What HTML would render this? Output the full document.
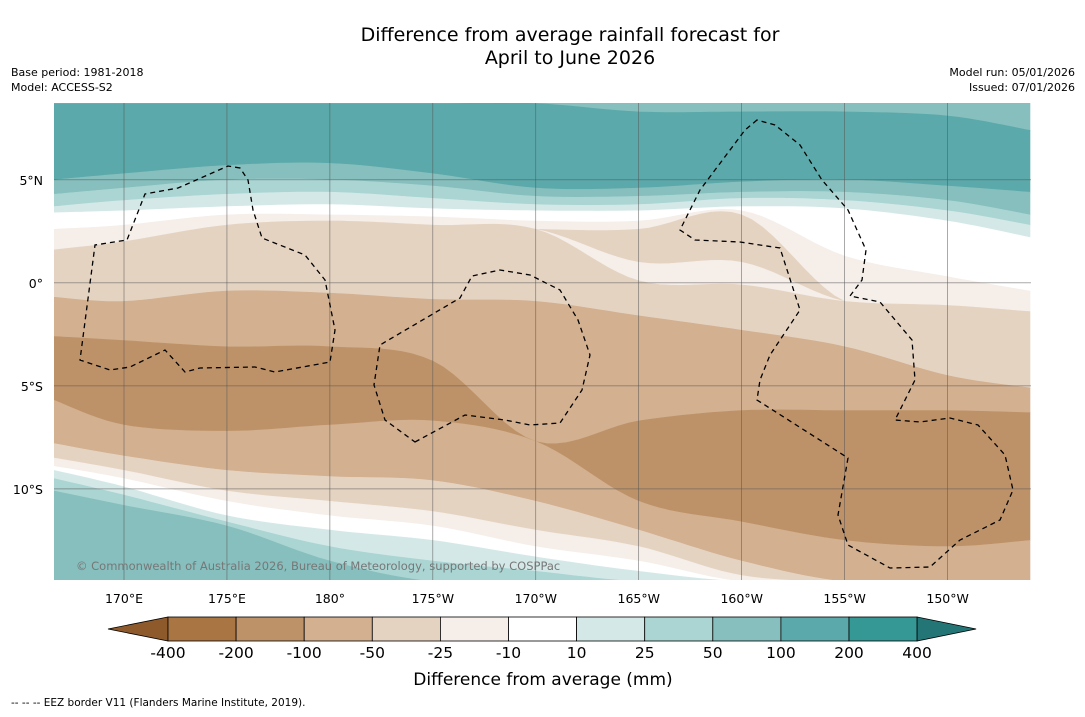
<!DOCTYPE html>
<html><head><meta charset="utf-8">
<style>
html,body{margin:0;padding:0;background:#fff;}
body{width:1085px;height:713px;overflow:hidden;font-family:"DejaVu Sans","Liberation Sans",sans-serif;}
svg text{font-family:"DejaVu Sans","Liberation Sans",sans-serif;}
</style></head>
<body>
<svg id="chart" width="1085" height="713" viewBox="0 0 1085 713" xmlns="http://www.w3.org/2000/svg">
<text x="570" y="41" font-size="19" text-anchor="middle" fill="#000">Difference from average rainfall forecast for</text>
<text x="570" y="64" font-size="19" text-anchor="middle" fill="#000">April to June 2026</text>
<text x="11" y="76" font-size="11">Base period: 1981-2018</text>
<text x="11" y="91" font-size="11">Model: ACCESS-S2</text>
<text x="1075" y="76" font-size="11" text-anchor="end">Model run: 05/01/2026</text>
<text x="1075" y="91" font-size="11" text-anchor="end">Issued: 07/01/2026</text>
<defs><clipPath id="mapclip"><rect x="54" y="103" width="977" height="477"/></clipPath></defs>
<g id="map" clip-path="url(#mapclip)"></g>
<g id="axes"></g>
<g id="cbar"></g>
<text x="543" y="685" font-size="17" text-anchor="middle">Difference from average (mm)</text>
<text x="11" y="706" font-size="10.5">--  --  -- EEZ border V11 (Flanders Marine Institute, 2019).</text>
</svg>
<script>
// ---- data ----
const lonKnots = [166.6,170,175,180,185,190,195,200,205,210,214];
const boundaries = [
 [8.7,8.7,8.7,8.7,8.7,8.7,8.3,8.3,8.3,8.1,7.4],
 [5.0,5.3,5.7,5.8,5.3,4.6,4.6,4.9,5.0,4.7,4.4],
 [4.3,4.6,5.0,5.0,4.7,4.2,4.2,4.4,4.4,4.0,3.3],
 [3.7,4.0,4.3,4.4,4.1,3.8,3.8,4.1,4.0,3.5,2.8],
 [3.4,3.5,3.7,3.8,3.6,3.5,3.5,3.7,3.6,3.0,2.2],
 [2.6,2.8,3.3,3.3,3.2,3.0,3.0,3.5,1.3,0.3,-0.4],
 [1.6,2.0,2.8,3.0,2.8,2.6,2.6,3.3,-0.9,-1.1,-1.4],
 [1.6,2.0,2.8,3.0,2.8,2.6,1.0,1.0,-0.9,-1.1,-1.4],
 [1.6,2.0,2.8,3.0,2.8,2.6,0.1,-0.1,-0.9,-1.1,-1.4],
 [-0.7,-0.9,-0.4,-0.5,-0.8,-0.9,-1.6,-2.3,-3.1,-4.5,-5.1],
 [-2.6,-2.8,-3.1,-3.1,-3.8,-7.7,-6.7,-6.2,-6.2,-6.2,-6.3],
 [-5.7,-6.9,-7.2,-6.9,-6.7,-7.7,-10.6,-11.6,-12.5,-12.8,-12.5],
 [-7.8,-8.4,-9.1,-9.4,-9.6,-10.6,-12.0,-13.5,-14.5,-14.5,-14.5],
 [-8.5,-9.1,-10.1,-10.6,-11.1,-12.0,-12.8,-14.2,-14.5,-14.5,-14.5],
 [-8.9,-9.5,-10.6,-11.3,-11.8,-12.8,-13.5,-14.5,-14.5,-14.5,-14.5],
 [-9.1,-9.9,-11.3,-12.0,-12.5,-13.3,-14.0,-14.5,-14.5,-14.5,-14.5],
 [-9.5,-10.3,-11.6,-12.8,-13.5,-14.0,-14.5,-14.5,-14.5,-14.5,-14.5],
 [-10.1,-10.8,-11.8,-13.5,-14.5,-14.5,-14.5,-14.5,-14.5,-14.5,-14.5]
];
// class index of each region (from north): index into binColors
const regionClass = [9,10,9,8,7,6,5,4,5,4,3,2,3,4,5,6,7,8,9];
const binLabels = ["-400","-200","-100","-50","-25","-10","10","25","50","100","200","400"];
const binColors = ["#8e5a2c","#a87543","#be9268","#d2b090","#e5d3c2","#f5eee9","#ffffff","#d4e9e7","#aad5d3","#86bfbd","#5ba9aa","#369895","#247676"];
const lonTicks = [170,175,180,185,190,195,200,205,210];
const lonTickLabels = ["170°E","175°E","180°","175°W","170°W","165°W","160°W","155°W","150°W"];
const latTicks = [5,0,-5,-10];
const latTickLabels = ["5°N","0°","5°S","10°S"];

// ---- axes ----
const X0=54,X1=1031,Y0=103,Y1=580;
const LON0=166.6,LON1=214.05,LAT0=8.73,LAT1=-14.42;
const xs = lon => X0 + (lon-LON0)/(LON1-LON0)*(X1-X0);
const ys = lat => Y0 + (LAT0-lat)/(LAT0-LAT1)*(Y1-Y0);
const NS="http://www.w3.org/2000/svg";
function mk(tag,attrs,parent){const e=document.createElementNS(NS,tag);for(const k in attrs)e.setAttribute(k,attrs[k]);parent.appendChild(e);return e;}

function sample(arr){
  const pts=[];
  const n=lonKnots.length;
  for(let i=0;i<n-1;i++){
    const p0=[lonKnots[Math.max(i-1,0)],arr[Math.max(i-1,0)]],p1=[lonKnots[i],arr[i]],p2=[lonKnots[i+1],arr[i+1]],p3=[lonKnots[Math.min(i+2,n-1)],arr[Math.min(i+2,n-1)]];
    for(let t=0;t<1;t+=0.1){
      const t2=t*t,t3=t2*t;
      const f=(a,b,c,d)=>0.5*((2*b)+(-a+c)*t+(2*a-5*b+4*c-d)*t2+(-a+3*b-3*c+d)*t3);
      pts.push([xs(f(p0[0],p1[0],p2[0],p3[0])),ys(f(p0[1],p1[1],p2[1],p3[1]))]);
    }
  }
  pts.push([xs(lonKnots[n-1]),ys(arr[n-1])]);
  return pts;
}
const map=document.getElementById('map');
const topEdge=lonKnots.map(()=>LAT0+1), botEdge=lonKnots.map(()=>LAT1-1);
const bnds=[topEdge,...boundaries,botEdge];
for(let r=0;r<bnds.length-1;r++){
  const a=sample(bnds[r]), b=sample(bnds[r+1]).reverse();
  const d="M"+a.concat(b).map(p=>p[0].toFixed(1)+","+p[1].toFixed(1)).join("L")+"Z";
  const p=mk('path',{d:d,fill:binColors[regionClass[r]],stroke:binColors[regionClass[r]],'stroke-width':0.6},map);
  
  
}
lonTicks.forEach((lon,i)=>{
  const l=mk('line',{x1:xs(lon),x2:xs(lon),y1:Y0,y2:Y1,stroke:'#555','stroke-width':0.5},map);
  
  
});
latTicks.forEach(lat=>{
  const l=mk('line',{x1:X0,x2:X1,y1:ys(lat),y2:ys(lat),stroke:'#555','stroke-width':0.5},map);
  
  
});
const eez=[
 "M240,168L228,166L178,188L145,194L127,240L95,245L80,360L110,370L130,367L165,350L185,372L200,368L255,367L275,372L330,362L335,330L325,280L305,255L262,238L253,210L248,180Z",
 "M415,442L465,415L505,420L530,425L560,423L582,390L590,355L578,320L560,290L530,275L500,270L472,276L460,298L380,345L374,385L385,420Z",
 "M757,120L745,130L700,190L680,230L695,240L740,242L780,248L800,310L770,355L760,380L757,400L848,458L838,515L848,545L890,568L930,567L960,540L1000,520L1013,490L1005,455L978,425L950,418L920,422L895,420L900,410L915,380L912,340L880,302L850,296L862,280L866,250L848,210L822,180L800,145L775,125Z"
];
eez.forEach(d=>{
  const p=mk('path',{d:d,fill:'none',stroke:'#000','stroke-width':1.3,'stroke-dasharray':'5,4'},map);
  
  
});
const cr=mk('text',{x:76,y:570,'font-size':11.5,fill:'#777'},map);
cr.textContent="© Commonwealth of Australia 2026, Bureau of Meteorology, supported by COSPPac";



const axes=document.getElementById('axes');
lonTicks.forEach((lon,i)=>{
  const t=mk('text',{x:xs(lon),y:603,'font-size':12.5,'text-anchor':'middle'},axes);
  t.textContent=lonTickLabels[i];
  
  
});
latTicks.forEach((lat,i)=>{
  const t=mk('text',{x:43,y:ys(lat)+5,'font-size':12.5,'text-anchor':'end'},axes);
  t.textContent=latTickLabels[i];
  
  
});

const cb=document.getElementById('cbar');
const CB0=168,CBW=68.1,CBY=617,CBH=24;
const NB=binColors.length-2;
const lt=mk('polygon',{points:`108,${CBY+CBH/2} ${CB0},${CBY} ${CB0},${CBY+CBH}`,fill:binColors[0],stroke:'#000','stroke-width':0.8},cb);


for(let i=1;i<=NB;i++){
  const r=mk('rect',{x:CB0+(i-1)*CBW,y:CBY,width:CBW,height:CBH,fill:binColors[i],stroke:'#000','stroke-width':0.8},cb);
  
  
}
const xe=CB0+NB*CBW;
const rt=mk('polygon',{points:`${xe},${CBY} ${xe+59},${CBY+CBH/2} ${xe},${CBY+CBH}`,fill:binColors[binColors.length-1],stroke:'#000','stroke-width':0.8},cb);


binLabels.forEach((lb,i)=>{
  const t=mk('text',{x:CB0+i*CBW,y:658,'font-size':15.5,'text-anchor':'middle'},cb);
  t.textContent=lb;
  
  
});
</script>
</body></html>
